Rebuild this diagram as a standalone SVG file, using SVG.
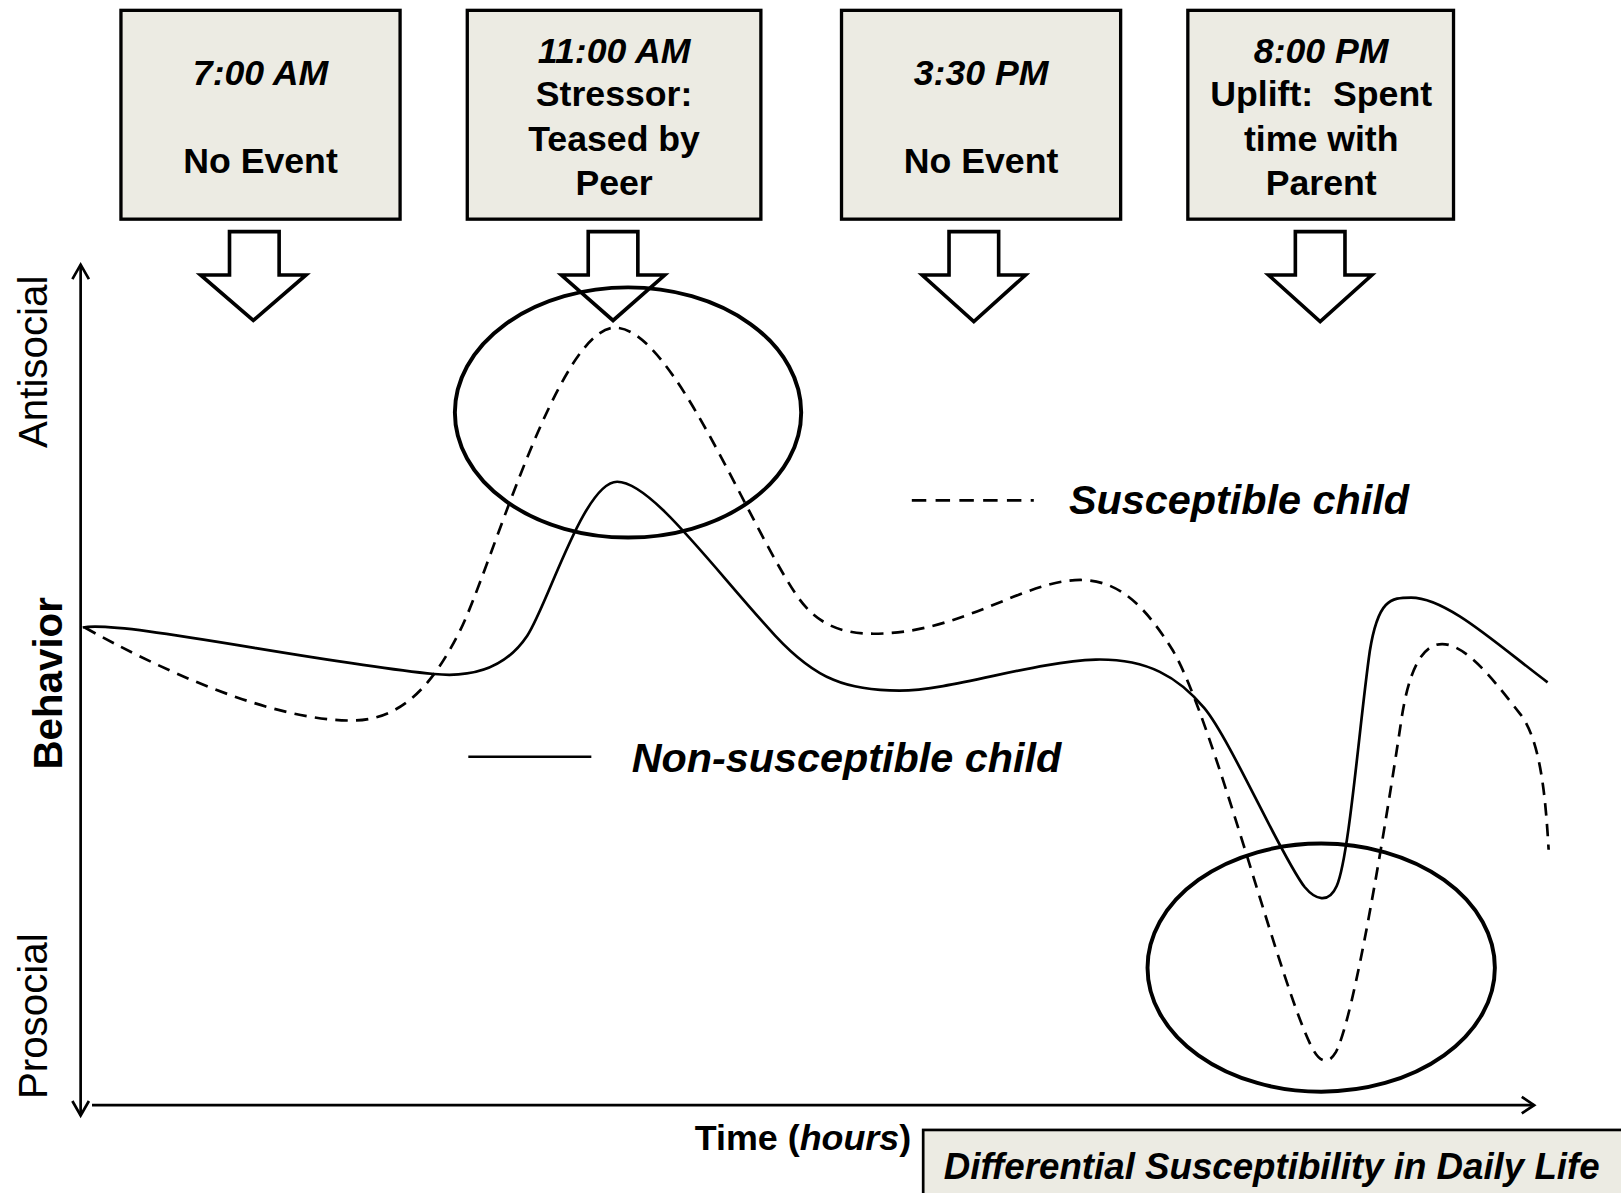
<svg xmlns="http://www.w3.org/2000/svg" width="1621" height="1193" viewBox="0 0 1621 1193">
<style>
.box{fill:#ECEBE3;stroke:#000;stroke-width:3.2}
.bt{font-family:"Liberation Sans",Arial,sans-serif;font-weight:bold;font-size:34.5px;text-anchor:middle;fill:#000}
.it{font-style:italic}
.blk{fill:#fff;stroke:#000;stroke-width:3.5;stroke-linejoin:miter}
.ax{fill:none;stroke:#000;stroke-width:2.6}
.solid{fill:none;stroke:#000;stroke-width:2.6}
.dash{fill:none;stroke:#000;stroke-width:2.6;stroke-dasharray:12 8}
.ell{fill:none;stroke:#000;stroke-width:3.8}
.lbl{font-family:"Liberation Sans",Arial,sans-serif;font-size:39px;fill:#000;text-anchor:middle}
.leg{font-family:"Liberation Sans",Arial,sans-serif;font-weight:bold;font-style:italic;font-size:40px;fill:#000}
</style>
<rect width="1621" height="1193" fill="#fff"/>
<g transform="scale(1.0338)">
  <g id="node-0700">
    <rect class="box" x="117" y="10" width="270" height="202"/>
    <text class="bt it" x="252" y="82">7:00 AM</text>
    <text class="bt" x="252" y="167">No Event</text>
  </g>
  <g id="node-1100">
    <rect class="box" x="452" y="10" width="284" height="202"/>
    <text class="bt it" x="594" y="61">11:00 AM</text>
    <text class="bt" x="594" y="103">Stressor:</text>
    <text class="bt" x="594" y="146">Teased by</text>
    <text class="bt" x="594" y="189">Peer</text>
  </g>
  <g id="node-1530">
    <rect class="box" x="814" y="10" width="270" height="202"/>
    <text class="bt it" x="949" y="82">3:30 PM</text>
    <text class="bt" x="949" y="167">No Event</text>
  </g>
  <g id="node-2000">
    <rect class="box" x="1149" y="10" width="257" height="202"/>
    <text class="bt it" x="1278" y="61">8:00 PM</text>
    <text class="bt" x="1278" y="103" xml:space="preserve">Uplift:  Spent</text>
    <text class="bt" x="1278" y="146">time with</text>
    <text class="bt" x="1278" y="189">Parent</text>
  </g>
  <g id="connectors">
    <path class="blk" d="M222,224 H270 V266 H296 L245,310 L194,266 H222 Z"/>
    <path class="blk" d="M569,224 H617 V266 H643 L593,310 L543,266 H569 Z"/>
    <path class="blk" d="M918,224 H966 V266 H992 L942,311 L892,266 H918 Z"/>
    <path class="blk" d="M1253,224 H1301 V266 H1327 L1277,311 L1227,266 H1253 Z"/>
  </g>
  <g id="axes">
    <line class="ax" x1="78" y1="256" x2="78" y2="1079"/>
    <polyline class="ax" points="70,270 78,256 86,270"/>
    <polyline class="ax" points="70,1065 78,1079 86,1065"/>
    <line class="ax" x1="89" y1="1069" x2="1484" y2="1069"/>
    <polyline class="ax" points="1472,1061 1484,1069 1472,1077"/>
    <text class="lbl" transform="translate(45,350) rotate(-90)">Antisocial</text>
    <text class="lbl" transform="translate(60,661) rotate(-90)" font-weight="bold">Behavior</text>
    <text class="lbl" transform="translate(45,983) rotate(-90)">Prosocial</text>
    <text x="672" y="1112" font-family="'Liberation Sans',Arial,sans-serif" font-weight="bold" font-size="34.7">Time (<tspan font-style="italic">hours</tspan>)</text>
  </g>
  <g id="curves">
    <path class="solid" d="M80,607 C120,600 300,640 420,652 C460,656 490,645 510,615 C530,585 565,466 597,466 C630,466 690,550 750,615 C790,658 820,668 870,668 C920,668 1000,640 1060,638 C1110,637 1140,655 1165,685 C1190,715 1240,830 1262,858 C1272,870 1285,875 1293,857 C1305,830 1315,700 1325,630 C1333,580 1345,578 1365,578 C1400,578 1450,625 1497,660"/>
    <path class="dash" d="M82,607 C150,645 260,697 340,697 C390,697 420,660 445,610 C475,550 540,317 595,317 C650,317 720,500 770,575 C790,605 815,613 845,613 C930,613 990,561 1045,561 C1085,561 1110,590 1135,630 C1175,700 1240,960 1270,1015 C1277,1028 1285,1030 1292,1018 C1310,985 1340,800 1355,700 C1362,650 1375,623 1395,623 C1420,623 1450,665 1470,690 C1490,715 1495,770 1498,822"/>
    <ellipse class="ell" cx="607.5" cy="399" rx="167.5" ry="121"/>
    <ellipse class="ell" cx="1278" cy="936" rx="168" ry="120"/>
  </g>
  <g id="legend">
    <line class="dash" x1="882" y1="484" x2="1000" y2="484" style="stroke-dasharray:14 9"/>
    <text class="leg" x="1034" y="497">Susceptible child</text>
    <line class="solid" x1="453" y1="732" x2="572" y2="732"/>
    <text class="leg" x="611" y="747">Non-susceptible child</text>
  </g>
  <g id="node-title">
    <rect class="box" x="893" y="1093" width="700" height="100" style="stroke-width:2.6"/>
    <text x="913" y="1140" font-family="'Liberation Sans',Arial,sans-serif" font-weight="bold" font-style="italic" font-size="35.5">Differential Susceptibility in Daily Life</text>
  </g>
</g>
</svg>
